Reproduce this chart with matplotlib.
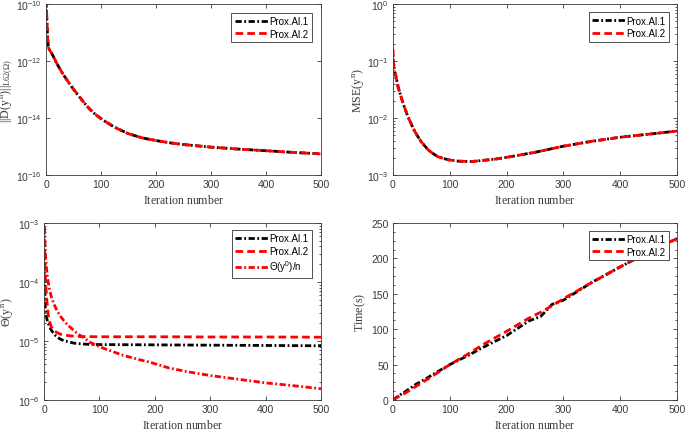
import numpy as np
import matplotlib
matplotlib.use("Agg")
import matplotlib.pyplot as plt
from matplotlib.ticker import (FixedLocator, FuncFormatter, LogLocator,
                               NullFormatter, NullLocator, AutoMinorLocator)

# ---------------- data ----------------
# Panel 1: ||D(y^n)||
it_d = [0, 1, 2, 3, 4, 5, 10, 15, 20, 25, 30, 40, 50, 60, 70, 80, 90, 100, 110,
        125, 150, 175, 200, 225, 250, 300, 350, 400, 450, 500]
d_al1 = [1.26e-10, 5.0e-11, 1.6e-11, 6.3e-12, 3.5e-12, 2.75e-12, 1.9e-12, 1.25e-12,
         7.9e-13, 5.4e-13, 3.7e-13, 1.9e-13, 1.02e-13, 5.8e-14, 3.3e-14, 2.0e-14,
         1.32e-14, 9.5e-15, 7.1e-15, 4.7e-15, 2.8e-15, 2.0e-15, 1.62e-15, 1.35e-15,
         1.17e-15, 9.5e-16, 8.1e-16, 7.1e-16, 6.2e-16, 5.5e-16]
d_al2 = [1.4e-10, 5.5e-11, 1.7e-11, 6.5e-12, 3.5e-12, 2.75e-12, 1.9e-12, 1.25e-12,
         7.9e-13, 5.4e-13, 3.7e-13, 1.9e-13, 1.02e-13, 5.8e-14, 3.3e-14, 2.0e-14,
         1.32e-14, 9.5e-15, 7.1e-15, 4.7e-15, 2.8e-15, 2.0e-15, 1.62e-15, 1.35e-15,
         1.17e-15, 9.5e-16, 8.1e-16, 7.1e-16, 6.2e-16, 5.5e-16]

# Panel 2: MSE(y^n)
it_m = [0, 1, 2, 3, 5, 9, 13, 18, 26, 32, 38, 44, 50, 62, 70, 79, 97, 115, 138,
        162, 180, 200, 250, 300, 350, 400, 450, 500]
mse_al1 = [0.11, 0.085, 0.07, 0.064, 0.055, 0.035, 0.0257, 0.0178, 0.0107, 0.0079,
           0.0059, 0.0047, 0.0038, 0.00275, 0.0024, 0.00209, 0.00185, 0.00175,
           0.00172, 0.00182, 0.0019, 0.00204, 0.0025, 0.0032, 0.0039, 0.0046,
           0.0052, 0.0059]
mse_al2 = [0.16, 0.095, 0.072, 0.064, 0.055, 0.035, 0.0257, 0.0178, 0.0107, 0.0079,
           0.0059, 0.0047, 0.0038, 0.00275, 0.0024, 0.00209, 0.00185, 0.00175,
           0.00172, 0.00182, 0.0019, 0.00204, 0.0025, 0.0032, 0.0039, 0.0046,
           0.0052, 0.0059]

# Panel 3: Theta(y^n)
it_t1 = [0, 1, 2, 3, 4, 6, 9, 12, 16, 21, 26, 30, 36, 42, 54, 70, 83, 100, 150,
         200, 300, 400, 500]
th_al1 = [3.5e-4, 1.0e-4, 4.2e-5, 3.1e-5, 2.7e-5, 2.2e-5, 1.85e-5, 1.6e-5, 1.4e-5,
          1.23e-5, 1.13e-5, 1.07e-5, 1.01e-5, 9.8e-6, 9.2e-6, 8.9e-6, 8.75e-6,
          8.7e-6, 8.65e-6, 8.6e-6, 8.5e-6, 8.4e-6, 8.3e-6]
it_t2 = [0, 1, 2, 3, 4, 6, 9, 13, 18, 24, 30, 40, 48, 65, 100, 200, 300, 400, 500]
th_al2 = [8.5e-4, 4.0e-4, 1.5e-4, 1.0e-4, 7.0e-5, 3.8e-5, 2.25e-5, 1.75e-5, 1.5e-5,
          1.38e-5, 1.3e-5, 1.25e-5, 1.22e-5, 1.19e-5, 1.18e-5, 1.18e-5, 1.17e-5,
          1.17e-5, 1.16e-5]
it_t0 = [1, 2, 3, 4, 6, 9, 12, 15, 18, 24, 30, 36, 42, 54, 62, 71, 83, 100, 113,
         143, 173, 190, 225, 260, 300, 350, 400, 450, 500]
th_0n = [8.5e-4, 4.2e-4, 2.6e-4, 1.9e-4, 1.25e-4, 8.2e-5, 6.2e-5, 5.0e-5, 4.2e-5,
         3.2e-5, 2.6e-5, 2.2e-5, 1.9e-5, 1.5e-5, 1.3e-5, 1.15e-5, 9.5e-6, 8.0e-6,
         7.2e-6, 5.7e-6, 4.8e-6, 4.4e-6, 3.5e-6, 3.0e-6, 2.6e-6, 2.25e-6, 1.95e-6,
         1.75e-6, 1.55e-6]

# Panel 4: Time(s)
it_s = [0, 10, 20, 40, 60, 70, 100, 130, 160, 200, 240, 260, 280, 300, 350, 400,
        450, 500]
time_al1 = [0, 6, 11, 22, 31, 36, 50, 62, 75, 91, 112, 118, 135, 141, 166, 188,
            209, 228]
time_al2 = [0, 5, 9, 19, 29, 34, 50, 64, 79, 97, 116, 124, 133, 143, 166, 188,
            209, 228]

legend_labels = ["Prox.Al.1", "Prox.Al.2"]
theta0_label = r"$\mathsf{\Theta(y^0)/n}$"

# ---------------- style ----------------
plt.rcParams["font.family"] = ["Liberation Sans", "DejaVu Sans"]
plt.rcParams["mathtext.fontset"] = "custom"
plt.rcParams["mathtext.rm"] = "Liberation Serif"
plt.rcParams["mathtext.it"] = "Liberation Serif:italic"
plt.rcParams["mathtext.sf"] = "Liberation Sans"
plt.rcParams["lines.scale_dashes"] = False

GREY = "#3a3a3a"
DD = (4.5, 1.8, 1.3, 1.8)   # dash-dot
DA = (5.5, 3.0)             # dashed
LW = 2.0
LABEL_FS = 8.6

fig = plt.figure(figsize=(6.85, 4.31), dpi=100)
W, H = 685.0, 431.0
ax1 = fig.add_axes([46 / W, 1 - 176 / H, 275 / W, 171 / H])
ax2 = fig.add_axes([393 / W, 1 - 176 / H, 284 / W, 171 / H])
ax3 = fig.add_axes([44 / W, 1 - 401 / H, 277 / W, 177 / H])
ax4 = fig.add_axes([393 / W, 1 - 401 / H, 284 / W, 177 / H])


def logfmt(v, pos):
    e = int(round(np.log10(v)))
    return r"$\mathsf{10^{%d}}$" % e


def style(ax, logy, ymin, ymax, majors, minor=True):
    ax.set_xlim(0, 500)
    ax.set_xticks([0, 100, 200, 300, 400, 500])
    if logy:
        ax.set_yscale("log")
        ax.set_ylim(ymin, ymax)
        ax.yaxis.set_major_locator(FixedLocator(majors))
        ax.yaxis.set_major_formatter(FuncFormatter(logfmt))
        if minor:
            ax.yaxis.set_minor_locator(LogLocator(base=10, subs=np.arange(2, 10)))
        else:
            ax.yaxis.set_minor_locator(NullLocator())
        ax.yaxis.set_minor_formatter(NullFormatter())
    else:
        ax.set_ylim(ymin, ymax)
        ax.set_yticks(majors)
        ax.yaxis.set_minor_locator(AutoMinorLocator(4))
    ax.tick_params(which="both", direction="in", top=True, right=True,
                   colors=GREY, labelsize=7.5, width=0.6, pad=3)
    ax.tick_params(which="major", length=3)
    ax.tick_params(which="minor", length=1.6)
    ax.tick_params(axis="x", which="minor", bottom=False, top=False)
    for s in ax.spines.values():
        s.set_color(GREY)
        s.set_linewidth(0.6)
    ax.set_xlabel(r"$\mathrm{Iteration\ number}$", fontsize=LABEL_FS, color=GREY)


def legend(ax, x, y):
    lg = ax.legend(loc="upper right", bbox_to_anchor=(x, y), borderaxespad=0,
                   fontsize=7, handlelength=3.4, handletextpad=0.15,
                   labelspacing=0.25, borderpad=0.35, fancybox=False,
                   framealpha=1, edgecolor="#333333")
    lg.get_frame().set_linewidth(0.6)
    lg.set_zorder(10)
    return lg


# Panel 1
ax1.plot(it_d, d_al1, color="k", lw=LW, dashes=DD, label=legend_labels[0])
ax1.plot(it_d, d_al2, color="red", lw=LW, dashes=DA, label=legend_labels[1])
style(ax1, True, 1e-16, 1e-10, [1e-16, 1e-14, 1e-12, 1e-10], minor=False)
ax1.set_ylabel(r"$\mathrm{||D(y^{\,n})||_{L62(\Omega)}}$", fontsize=LABEL_FS, color=GREY)
legend(ax1, 0.967, 0.947)

# Panel 2
ax2.plot(it_m, mse_al1, color="k", lw=LW, dashes=DD, label=legend_labels[0])
ax2.plot(it_m, mse_al2, color="red", lw=LW, dashes=DA, label=legend_labels[1])
style(ax2, True, 1e-3, 1e0, [1e-3, 1e-2, 1e-1, 1e0])
ax2.set_ylabel(r"$\mathrm{MSE(y^{\,n})}$", fontsize=LABEL_FS, color=GREY)
legend(ax2, 0.972, 0.951)

# Panel 3
ax3.plot(it_t1, th_al1, color="k", lw=LW, dashes=DD, label=legend_labels[0])
ax3.plot(it_t2, th_al2, color="red", lw=LW, dashes=DA, label=legend_labels[1])
ax3.plot(it_t0, th_0n, color="red", lw=LW, dashes=DD, label=theta0_label)
style(ax3, True, 1e-6, 1e-3, [1e-6, 1e-5, 1e-4, 1e-3])
ax3.set_ylabel(r"$\mathrm{\Theta(y^{\,n})}$", fontsize=LABEL_FS, color=GREY)
legend(ax3, 0.9675, 0.96)

# Panel 4
ax4.plot(it_s, time_al1, color="k", lw=LW, dashes=DD, label=legend_labels[0])
ax4.plot(it_s, time_al2, color="red", lw=LW, dashes=DA, label=legend_labels[1])
style(ax4, False, 0, 250, [0, 50, 100, 150, 200, 250])
ax4.set_ylabel(r"$\mathrm{Time(s)}$", fontsize=LABEL_FS, color=GREY)
legend(ax4, 0.972, 0.955)

for ax, lx in [(ax1, -0.113), (ax2, -0.095), (ax3, -0.105), (ax4, -0.088)]:
    ax.yaxis.set_label_coords(lx, 0.5)
    h = ax.get_position().height * H
    ax.xaxis.set_label_coords(0.5, -18.0 / h)

fig.savefig("out.png", dpi=100)
